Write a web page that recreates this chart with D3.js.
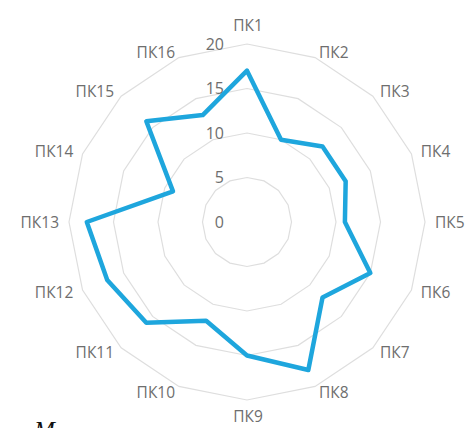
<!DOCTYPE html>
<html>
<head>
<meta charset="utf-8">
<script src="https://cdn.jsdelivr.net/npm/d3@7"></script>
<style>
  html, body { margin: 0; padding: 0; background: #ffffff; }
  svg { display: block; }
</style>
</head>
<body>
<svg id="chart" width="469" height="428"></svg>
<script>
// Radar (spider) chart of ПК1–ПК16 values
const categories = ["ПК1","ПК2","ПК3","ПК4","ПК5","ПК6","ПК7","ПК8",
                    "ПК9","ПК10","ПК11","ПК12","ПК13","ПК14","ПК15","ПК16"];
const values = [17, 10, 12, 12, 11, 15, 12, 18, 15, 12, 16, 17, 18, 9, 16, 13];
const tickValues = [0, 5, 10, 15, 20];

const svg = d3.select("#chart");
const cx = 247, cy = 222, R = 178;
const font = "'Open Sans', 'Noto Sans', sans-serif";

const r = d3.scaleLinear().domain([0, 20]).range([0, R]);
const angle = d3.scalePoint().domain(categories).range([0, 2 * Math.PI * (categories.length - 1) / categories.length]);

const g = svg.append("g").attr("transform", `translate(${cx},${cy})`);

// Concentric polygon gridlines
const ring = d3.lineRadial()
  .angle(d => angle(d))
  .curve(d3.curveLinearClosed);

g.selectAll("path.grid")
  .data(tickValues.filter(v => v > 0))
  .join("path")
  .attr("class", "grid")
  .attr("d", v => ring.radius(() => r(v))(categories))
  .attr("fill", "none")
  .attr("stroke", "#dedede")
  .attr("stroke-width", 1.2);

// Value labels along the vertical axis
g.selectAll("text.tick")
  .data(tickValues)
  .join("text")
  .attr("class", "tick")
  .attr("x", -23)
  .attr("y", v => -r(v))
  .attr("dy", "0.36em")
  .attr("text-anchor", "end")
  .attr("font-family", font)
  .attr("font-size", 16)
  .attr("fill", "#6e6e6e")
  .text(v => v);

// Category labels around the outside
g.selectAll("text.cat")
  .data(categories)
  .join("text")
  .attr("class", "cat")
  .attr("font-family", font)
  .attr("font-size", 15.5)
  .attr("fill", "#6e6e6e")
  .attr("dy", "0.36em")
  .text(d => d)
  .each(function(d) {
    const a = angle(d);
    const s = Math.sin(a), c = -Math.cos(a);
    const sel = d3.select(this);
    if (Math.abs(s) < 1e-6) {
      sel.attr("text-anchor", "middle")
        .attr("x", 1)
        .attr("y", c * (R + (c < 0 ? 19 : 16)));
    } else {
      sel.attr("text-anchor", s > 0 ? "start" : "end")
        .attr("x", s * (R + 10))
        .attr("y", c * (R + 6));
    }
  });

// Data series
const line = d3.lineRadial()
  .angle((d, i) => angle(categories[i]))
  .radius(d => r(d))
  .curve(d3.curveLinearClosed);

g.append("path")
  .datum(values)
  .attr("d", line)
  .attr("fill", "none")
  .attr("stroke", "#1ea6dd")
  .attr("stroke-width", 4.5)
  .attr("stroke-linejoin", "round");

// Start of the following paragraph of text
svg.append("text")
  .attr("x", 34)
  .attr("y", 439)
  .attr("font-family", "'Liberation Serif', 'DejaVu Serif', serif")
  .attr("font-style", "italic")
  .attr("font-size", 25)
  .attr("fill", "#111")
  .text("М");
</script>
</body>
</html>
